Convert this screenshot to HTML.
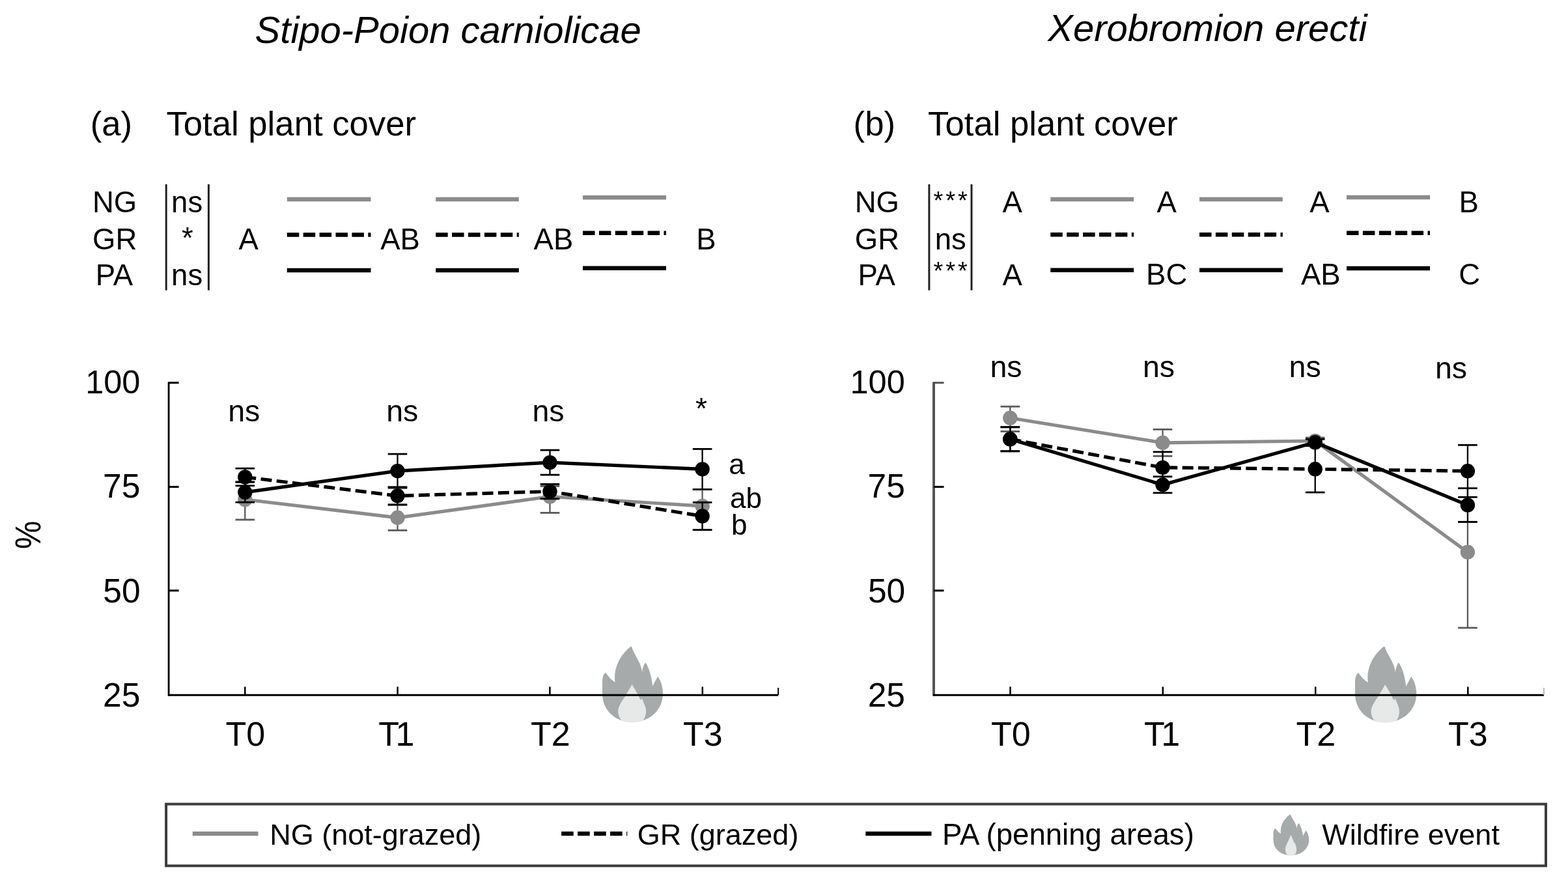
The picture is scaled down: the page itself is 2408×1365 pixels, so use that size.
<!DOCTYPE html>
<html><head><meta charset="utf-8"><style>
html,body{margin:0;padding:0;background:#fff;}
svg{display:block;}
text{font-family:"Liberation Sans",Arial,sans-serif;}
</style></head><body>
<svg width="2408" height="1365" viewBox="0 0 2408 1365">
<rect x="0" y="0" width="2408" height="1365" fill="#fff"/>
<text x="391.6" y="65.6" font-size="58" style="font-style:italic;" fill="#000" >Stipo-Poion carniolicae</text>
<text x="1609.3" y="62.6" font-size="58" style="font-style:italic;" fill="#000" >Xerobromion erecti</text>
<text x="138.7" y="208.0" font-size="52.7" style="" fill="#000" >(a)</text>
<text x="255.4" y="208.0" font-size="52.7" style="" fill="#000" >Total plant cover</text>
<text x="1310.6" y="208.0" font-size="52.7" style="" fill="#000" >(b)</text>
<text x="1425.1" y="208.2" font-size="52.7" style="" fill="#000" >Total plant cover</text>
<text x="142.0" y="326.0" font-size="45.5" style="" fill="#000" >NG</text>
<text x="142.1" y="383.0" font-size="45.5" style="" fill="#000" >GR</text>
<text x="146.8" y="437.6" font-size="45.5" style="" fill="#000" >PA</text>
<line x1="255.2" y1="283" x2="255.2" y2="445.7" stroke="#222" stroke-width="3" />
<line x1="320.4" y1="283" x2="320.4" y2="445.7" stroke="#222" stroke-width="3" />
<text x="263.1" y="326.0" font-size="45.5" style="" fill="#000" >ns</text>
<text x="279.1" y="380.5" font-size="45.5" style="" fill="#000" >*</text>
<text x="263.1" y="437.6" font-size="45.5" style="" fill="#000" >ns</text>
<line x1="440.8" y1="306" x2="569.5" y2="306" stroke="#8b8b8b" stroke-width="6.5" />
<line x1="440.8" y1="360.4" x2="569.5" y2="360.4" stroke="#000" stroke-width="6.5" stroke-dasharray="18.5 6.4"/>
<line x1="440.8" y1="415" x2="569.5" y2="415" stroke="#000" stroke-width="6.5" />
<line x1="669.2" y1="306" x2="796.8" y2="306" stroke="#8b8b8b" stroke-width="6.5" />
<line x1="669.2" y1="360.4" x2="796.8" y2="360.4" stroke="#000" stroke-width="6.5" stroke-dasharray="18.5 6.4"/>
<line x1="669.2" y1="415" x2="796.8" y2="415" stroke="#000" stroke-width="6.5" />
<line x1="895" y1="303.3" x2="1023" y2="303.3" stroke="#8b8b8b" stroke-width="6.5" />
<line x1="895" y1="357.7" x2="1023" y2="357.7" stroke="#000" stroke-width="6.5" stroke-dasharray="18.5 6.4"/>
<line x1="895" y1="411.8" x2="1023" y2="411.8" stroke="#000" stroke-width="6.5" />
<text x="366.4" y="383.0" font-size="45.5" style="" fill="#000" >A</text>
<text x="584.2" y="383.0" font-size="45.5" style="" fill="#000" >AB</text>
<text x="819.6" y="382.7" font-size="45.5" style="" fill="#000" >AB</text>
<text x="1069.3" y="382.7" font-size="45.5" style="" fill="#000" >B</text>
<text x="1312.7" y="326.0" font-size="45.5" style="" fill="#000" >NG</text>
<text x="1312.8" y="383.0" font-size="45.5" style="" fill="#000" >GR</text>
<text x="1317.5" y="437.6" font-size="45.5" style="" fill="#000" >PA</text>
<line x1="1426.9" y1="283" x2="1426.9" y2="445.7" stroke="#222" stroke-width="3" />
<line x1="1492" y1="283" x2="1492" y2="445.7" stroke="#222" stroke-width="3" />
<text x="1433.5" y="320.5" font-size="38" style="" fill="#000"  letter-spacing="3.9">***</text>
<text x="1435.7" y="383.0" font-size="45.5" style="" fill="#000" >ns</text>
<text x="1433.5" y="428.5" font-size="38" style="" fill="#000"  letter-spacing="3.9">***</text>
<line x1="1613.3" y1="305.9" x2="1741.2" y2="305.9" stroke="#8b8b8b" stroke-width="6.5" />
<line x1="1613.3" y1="360.3" x2="1741.2" y2="360.3" stroke="#000" stroke-width="6.5" stroke-dasharray="18.5 6.4"/>
<line x1="1613.3" y1="414.8" x2="1741.2" y2="414.8" stroke="#000" stroke-width="6.5" />
<line x1="1842" y1="305.9" x2="1969.8" y2="305.9" stroke="#8b8b8b" stroke-width="6.5" />
<line x1="1842" y1="360.3" x2="1969.8" y2="360.3" stroke="#000" stroke-width="6.5" stroke-dasharray="18.5 6.4"/>
<line x1="1842" y1="414.8" x2="1969.8" y2="414.8" stroke="#000" stroke-width="6.5" />
<line x1="2068" y1="303" x2="2196" y2="303" stroke="#8b8b8b" stroke-width="6.5" />
<line x1="2068" y1="357.8" x2="2196" y2="357.8" stroke="#000" stroke-width="6.5" stroke-dasharray="18.5 6.4"/>
<line x1="2068" y1="412" x2="2196" y2="412" stroke="#000" stroke-width="6.5" />
<text x="1539.6" y="326.0" font-size="45.5" style="" fill="#000" >A</text>
<text x="1539.6" y="437.5" font-size="45.5" style="" fill="#000" >A</text>
<text x="1776.5" y="326.2" font-size="45.5" style="" fill="#000" >A</text>
<text x="1760.1" y="437.0" font-size="45.5" style="" fill="#000" >BC</text>
<text x="2011.3" y="325.7" font-size="45.5" style="" fill="#000" >A</text>
<text x="1998.0" y="437.0" font-size="45.5" style="" fill="#000" >AB</text>
<text x="2240.6" y="325.7" font-size="45.5" style="" fill="#000" >B</text>
<text x="2240.3" y="437.0" font-size="45.5" style="" fill="#000" >C</text>
<g transform="translate(925 992.8) scale(1.0 1.0)"><path d="M46 116C20 116 0 98 0 72L0 52Q1 42 5 40Q12 50 19.5 55C17 35 25 15 43.5 0Q46 0 46 3C50 15 60 25 61 39.5C62 32 64 27 66 24.5C72 32 76 48 77.3 61C80 55 83 50 85 46C90 52 93 62 93 72C93 98 72 116 46 116Z" fill="#a7aaaa"/><path d="M45.5 58C43 64 38 70 35.5 76C31 82 27 88 25 94C23 100 25 108 30 114Q46 118.5 62 114C67 108 68 100 66.5 94C65 89 63 85 61 80L58.5 82C55 73 49 64 45.5 58Z" fill="#e7e9e9"/></g>
<g transform="translate(2081 992.7) scale(1.0129032258064516 1.0051724137931033)"><path d="M46 116C20 116 0 98 0 72L0 52Q1 42 5 40Q12 50 19.5 55C17 35 25 15 43.5 0Q46 0 46 3C50 15 60 25 61 39.5C62 32 64 27 66 24.5C72 32 76 48 77.3 61C80 55 83 50 85 46C90 52 93 62 93 72C93 98 72 116 46 116Z" fill="#a7aaaa"/><path d="M45.5 58C43 64 38 70 35.5 76C31 82 27 88 25 94C23 100 25 108 30 114Q46 118.5 62 114C67 108 68 100 66.5 94C65 89 63 85 61 80L58.5 82C55 73 49 64 45.5 58Z" fill="#e7e9e9"/></g>
<line x1="259.1" y1="586.4" x2="259.1" y2="1068.5" stroke="#000" stroke-width="2.8" />
<line x1="259.1" y1="587.7" x2="274.6" y2="587.7" stroke="#000" stroke-width="3" />
<line x1="259.1" y1="747.5" x2="274.6" y2="747.5" stroke="#000" stroke-width="3" />
<line x1="259.1" y1="906.8" x2="274.6" y2="906.8" stroke="#000" stroke-width="3" />
<line x1="258.1" y1="1067.2" x2="1195.2" y2="1067.2" stroke="#000" stroke-width="3" />
<line x1="376.3" y1="1054.5" x2="376.3" y2="1067" stroke="#000" stroke-width="2.5" />
<line x1="610.6" y1="1054.5" x2="610.6" y2="1067" stroke="#000" stroke-width="2.5" />
<line x1="844.4" y1="1054.5" x2="844.4" y2="1067" stroke="#000" stroke-width="2.5" />
<line x1="1078.8" y1="1054.5" x2="1078.8" y2="1067" stroke="#000" stroke-width="2.5" />
<line x1="1195.2" y1="1056" x2="1195.2" y2="1067" stroke="#000" stroke-width="2" />
<text x="131.2" y="603.6" font-size="50.5" style="" fill="#000" >100</text>
<text x="158.0" y="763.6" font-size="51.5" style="" fill="#000" >75</text>
<text x="158.3" y="924.6" font-size="51.5" style="" fill="#000" >50</text>
<text x="158.1" y="1084.6" font-size="51.5" style="" fill="#000" >25</text>
<text x="346.5" y="1144.6" font-size="52" style="" fill="#000" >T0</text>
<text x="581.2" y="1144.6" font-size="52" style="" fill="#000"  letter-spacing="-5.5">T1</text>
<text x="815.1" y="1144.6" font-size="52" style="" fill="#000" >T2</text>
<text x="1049.0" y="1144.6" font-size="52" style="" fill="#000" >T3</text>
<line x1="1434" y1="586.4" x2="1434" y2="1068.5" stroke="#555" stroke-width="4" />
<line x1="1434" y1="587.7" x2="1449.5" y2="587.7" stroke="#555" stroke-width="3" />
<line x1="1434" y1="747.5" x2="1449.5" y2="747.5" stroke="#000" stroke-width="3" />
<line x1="1434" y1="906.8" x2="1449.5" y2="906.8" stroke="#000" stroke-width="3" />
<line x1="1433" y1="1067.2" x2="2371" y2="1067.2" stroke="#000" stroke-width="3" />
<line x1="1551.5" y1="1054.5" x2="1551.5" y2="1067" stroke="#000" stroke-width="2.5" />
<line x1="1785.8" y1="1054.5" x2="1785.8" y2="1067" stroke="#000" stroke-width="2.5" />
<line x1="2020.2" y1="1054.5" x2="2020.2" y2="1067" stroke="#000" stroke-width="2.5" />
<line x1="2254.3" y1="1054.5" x2="2254.3" y2="1067" stroke="#000" stroke-width="2.5" />
<line x1="2371" y1="1056" x2="2371" y2="1067" stroke="#bbb" stroke-width="2" />
<text x="1305.5" y="603.6" font-size="50.5" style="" fill="#000" >100</text>
<text x="1332.6" y="763.6" font-size="51.5" style="" fill="#000" >75</text>
<text x="1332.9" y="924.6" font-size="51.5" style="" fill="#000" >50</text>
<text x="1332.7" y="1084.6" font-size="51.5" style="" fill="#000" >25</text>
<text x="1522.1" y="1144.6" font-size="52" style="" fill="#000" >T0</text>
<text x="1757.1" y="1144.6" font-size="52" style="" fill="#000"  letter-spacing="-5.5">T1</text>
<text x="1990.4" y="1144.6" font-size="52" style="" fill="#000" >T2</text>
<text x="2224.0" y="1144.6" font-size="52" style="" fill="#000" >T3</text>
<text x="0" y="0" font-size="54" transform="translate(61.6 843) rotate(-90) scale(0.9 1.04)">%</text>
<text x="350.2" y="647.2" font-size="46.5" style="" fill="#000" >ns</text>
<text x="593.2" y="647.2" font-size="46.5" style="" fill="#000" >ns</text>
<text x="817.4" y="647.2" font-size="46.5" style="" fill="#000" >ns</text>
<text x="1068.0" y="643.0" font-size="46.5" style="" fill="#000" >*</text>
<text x="1520.4" y="579.0" font-size="46.5" style="" fill="#000" >ns</text>
<text x="1754.9" y="579.0" font-size="46.5" style="" fill="#000" >ns</text>
<text x="1979.6" y="579.0" font-size="46.5" style="" fill="#000" >ns</text>
<text x="2203.9" y="581.0" font-size="46.5" style="" fill="#000" >ns</text>
<text x="1119.3" y="727.5" font-size="44" style="" fill="#000" >a</text>
<text x="1121.1" y="780.2" font-size="44" style="" fill="#000" >ab</text>
<text x="1123.1" y="820.7" font-size="44" style="" fill="#000" >b</text>
<line x1="376.3" y1="739.5" x2="376.3" y2="798" stroke="#5a5a5a" stroke-width="2.3" />
<line x1="361.5" y1="739.5" x2="391.1" y2="739.5" stroke="#5a5a5a" stroke-width="2.8" />
<line x1="361.5" y1="798" x2="391.1" y2="798" stroke="#5a5a5a" stroke-width="2.8" />
<line x1="610.5" y1="775.3" x2="610.5" y2="814.3" stroke="#5a5a5a" stroke-width="2.3" />
<line x1="595.7" y1="775.3" x2="625.3" y2="775.3" stroke="#5a5a5a" stroke-width="2.8" />
<line x1="595.7" y1="814.3" x2="625.3" y2="814.3" stroke="#5a5a5a" stroke-width="2.8" />
<line x1="844.5" y1="746.5" x2="844.5" y2="787.4" stroke="#5a5a5a" stroke-width="2.3" />
<line x1="829.7" y1="746.5" x2="859.3" y2="746.5" stroke="#5a5a5a" stroke-width="2.8" />
<line x1="829.7" y1="787.4" x2="859.3" y2="787.4" stroke="#5a5a5a" stroke-width="2.8" />
<line x1="1078.6" y1="751.6" x2="1078.6" y2="813.6" stroke="#5a5a5a" stroke-width="2.3" />
<line x1="1063.8" y1="751.6" x2="1093.3999999999999" y2="751.6" stroke="#5a5a5a" stroke-width="2.8" />
<line x1="1063.8" y1="813.6" x2="1093.3999999999999" y2="813.6" stroke="#5a5a5a" stroke-width="2.8" />
<polyline points="376.3,767 610.5,794.8 844.5,762.5 1078.6,777" fill="none" stroke="#8b8b8b" stroke-width="5.2" stroke-linejoin="round" />
<circle cx="376.3" cy="767" r="11.2" fill="#8b8b8b"/>
<circle cx="610.5" cy="794.8" r="11.2" fill="#8b8b8b"/>
<circle cx="844.5" cy="762.5" r="11.2" fill="#8b8b8b"/>
<circle cx="1078.6" cy="777" r="11.2" fill="#8b8b8b"/>
<line x1="376.3" y1="719.2" x2="376.3" y2="745.8" stroke="#000" stroke-width="2.3" />
<line x1="361.5" y1="719.2" x2="391.1" y2="719.2" stroke="#000" stroke-width="2.8" />
<line x1="361.5" y1="745.8" x2="391.1" y2="745.8" stroke="#000" stroke-width="2.8" />
<line x1="376.3" y1="740.4" x2="376.3" y2="771.1999999999999" stroke="#000" stroke-width="2.3" />
<line x1="361.5" y1="740.4" x2="391.1" y2="740.4" stroke="#000" stroke-width="2.8" />
<line x1="361.5" y1="771.1999999999999" x2="391.1" y2="771.1999999999999" stroke="#000" stroke-width="2.8" />
<line x1="610.5" y1="747.8" x2="610.5" y2="774.8" stroke="#000" stroke-width="2.3" />
<line x1="595.7" y1="747.8" x2="625.3" y2="747.8" stroke="#000" stroke-width="2.8" />
<line x1="595.7" y1="774.8" x2="625.3" y2="774.8" stroke="#000" stroke-width="2.8" />
<line x1="610.5" y1="697.1" x2="610.5" y2="749.1" stroke="#000" stroke-width="2.3" />
<line x1="595.7" y1="697.1" x2="625.3" y2="697.1" stroke="#000" stroke-width="2.8" />
<line x1="595.7" y1="749.1" x2="625.3" y2="749.1" stroke="#000" stroke-width="2.8" />
<line x1="844.5" y1="743.4" x2="844.5" y2="765.8000000000001" stroke="#000" stroke-width="2.3" />
<line x1="829.7" y1="743.4" x2="859.3" y2="743.4" stroke="#000" stroke-width="2.8" />
<line x1="829.7" y1="765.8000000000001" x2="859.3" y2="765.8000000000001" stroke="#000" stroke-width="2.8" />
<line x1="844.5" y1="691.1" x2="844.5" y2="729.1" stroke="#000" stroke-width="2.3" />
<line x1="829.7" y1="691.1" x2="859.3" y2="691.1" stroke="#000" stroke-width="2.8" />
<line x1="829.7" y1="729.1" x2="859.3" y2="729.1" stroke="#000" stroke-width="2.8" />
<line x1="1078.6" y1="771.4" x2="1078.6" y2="813.6" stroke="#000" stroke-width="2.3" />
<line x1="1063.8" y1="771.4" x2="1093.3999999999999" y2="771.4" stroke="#000" stroke-width="2.8" />
<line x1="1063.8" y1="813.6" x2="1093.3999999999999" y2="813.6" stroke="#000" stroke-width="2.8" />
<line x1="1078.6" y1="689.4" x2="1078.6" y2="751.4" stroke="#000" stroke-width="2.3" />
<line x1="1063.8" y1="689.4" x2="1093.3999999999999" y2="689.4" stroke="#000" stroke-width="2.8" />
<line x1="1063.8" y1="751.4" x2="1093.3999999999999" y2="751.4" stroke="#000" stroke-width="2.8" />
<polyline points="376.3,732.5 610.5,761.3 844.5,754.6 1078.6,792.5" fill="none" stroke="#000" stroke-width="5.2" stroke-linejoin="round" stroke-dasharray="17 7.4"/>
<polyline points="376.3,755.8 610.5,723.1 844.5,710.1 1078.6,720.4" fill="none" stroke="#000" stroke-width="5.2" stroke-linejoin="round" />
<circle cx="376.3" cy="732.5" r="11.2" fill="#000"/>
<circle cx="376.3" cy="755.8" r="11.2" fill="#000"/>
<circle cx="610.5" cy="761.3" r="11.2" fill="#000"/>
<circle cx="610.5" cy="723.1" r="11.2" fill="#000"/>
<circle cx="844.5" cy="754.6" r="11.2" fill="#000"/>
<circle cx="844.5" cy="710.1" r="11.2" fill="#000"/>
<circle cx="1078.6" cy="792.5" r="11.2" fill="#000"/>
<circle cx="1078.6" cy="720.4" r="11.2" fill="#000"/>
<line x1="1551.3" y1="624.1999999999999" x2="1551.3" y2="662.4" stroke="#5a5a5a" stroke-width="2.3" />
<line x1="1536.5" y1="624.1999999999999" x2="1566.1" y2="624.1999999999999" stroke="#5a5a5a" stroke-width="2.8" />
<line x1="1536.5" y1="662.4" x2="1566.1" y2="662.4" stroke="#5a5a5a" stroke-width="2.8" />
<line x1="1785.5" y1="659.3" x2="1785.5" y2="700.3" stroke="#5a5a5a" stroke-width="2.3" />
<line x1="1770.7" y1="659.3" x2="1800.3" y2="659.3" stroke="#5a5a5a" stroke-width="2.8" />
<line x1="1770.7" y1="700.3" x2="1800.3" y2="700.3" stroke="#5a5a5a" stroke-width="2.8" />
<line x1="2019.7" y1="672" x2="2019.7" y2="682" stroke="#5a5a5a" stroke-width="2.3" />
<line x1="2004.9" y1="672" x2="2034.5" y2="672" stroke="#5a5a5a" stroke-width="2.8" />
<line x1="2004.9" y1="682" x2="2034.5" y2="682" stroke="#5a5a5a" stroke-width="2.8" />
<line x1="2253.9" y1="801.4" x2="2253.9" y2="964.0" stroke="#5a5a5a" stroke-width="2.3" />
<line x1="2239.1" y1="801.4" x2="2268.7000000000003" y2="801.4" stroke="#5a5a5a" stroke-width="2.8" />
<line x1="2239.1" y1="964.0" x2="2268.7000000000003" y2="964.0" stroke="#5a5a5a" stroke-width="2.8" />
<polyline points="1551.3,641.8 1785.5,679.8 2019.7,677 2253.9,847.8" fill="none" stroke="#8b8b8b" stroke-width="5.2" stroke-linejoin="round" />
<circle cx="1551.3" cy="641.8" r="11.2" fill="#8b8b8b"/>
<circle cx="1785.5" cy="679.8" r="11.2" fill="#8b8b8b"/>
<circle cx="2019.7" cy="677" r="11.2" fill="#8b8b8b"/>
<circle cx="2253.9" cy="847.8" r="11.2" fill="#8b8b8b"/>
<line x1="1551.3" y1="655.8" x2="1551.3" y2="692.8" stroke="#000" stroke-width="2.3" />
<line x1="1536.5" y1="655.8" x2="1566.1" y2="655.8" stroke="#000" stroke-width="2.8" />
<line x1="1536.5" y1="692.8" x2="1566.1" y2="692.8" stroke="#000" stroke-width="2.8" />
<line x1="1551.3" y1="655.8" x2="1551.3" y2="692.8" stroke="#000" stroke-width="2.3" />
<line x1="1536.5" y1="655.8" x2="1566.1" y2="655.8" stroke="#000" stroke-width="2.8" />
<line x1="1536.5" y1="692.8" x2="1566.1" y2="692.8" stroke="#000" stroke-width="2.8" />
<line x1="1785.5" y1="693.9" x2="1785.5" y2="741.9" stroke="#000" stroke-width="2.3" />
<line x1="1770.7" y1="693.9" x2="1800.3" y2="693.9" stroke="#000" stroke-width="2.8" />
<line x1="1770.7" y1="741.9" x2="1800.3" y2="741.9" stroke="#000" stroke-width="2.8" />
<line x1="1785.5" y1="731.8" x2="1785.5" y2="756.8" stroke="#000" stroke-width="2.3" />
<line x1="1770.7" y1="731.8" x2="1800.3" y2="731.8" stroke="#000" stroke-width="2.8" />
<line x1="1770.7" y1="756.8" x2="1800.3" y2="756.8" stroke="#000" stroke-width="2.8" />
<line x1="2019.7" y1="684.5999999999999" x2="2019.7" y2="756.0" stroke="#000" stroke-width="2.3" />
<line x1="2004.9" y1="684.5999999999999" x2="2034.5" y2="684.5999999999999" stroke="#000" stroke-width="2.8" />
<line x1="2004.9" y1="756.0" x2="2034.5" y2="756.0" stroke="#000" stroke-width="2.8" />
<line x1="2019.7" y1="674.3" x2="2019.7" y2="684.3" stroke="#000" stroke-width="2.3" />
<line x1="2004.9" y1="674.3" x2="2034.5" y2="674.3" stroke="#000" stroke-width="2.8" />
<line x1="2004.9" y1="684.3" x2="2034.5" y2="684.3" stroke="#000" stroke-width="2.8" />
<line x1="2253.9" y1="683.3" x2="2253.9" y2="763.3" stroke="#000" stroke-width="2.3" />
<line x1="2239.1" y1="683.3" x2="2268.7000000000003" y2="683.3" stroke="#000" stroke-width="2.8" />
<line x1="2239.1" y1="763.3" x2="2268.7000000000003" y2="763.3" stroke="#000" stroke-width="2.8" />
<line x1="2253.9" y1="749.7" x2="2253.9" y2="801.3" stroke="#000" stroke-width="2.3" />
<line x1="2239.1" y1="749.7" x2="2268.7000000000003" y2="749.7" stroke="#000" stroke-width="2.8" />
<line x1="2239.1" y1="801.3" x2="2268.7000000000003" y2="801.3" stroke="#000" stroke-width="2.8" />
<polyline points="1551.3,674.3 1785.5,717.9 2019.7,720.3 2253.9,723.3" fill="none" stroke="#000" stroke-width="5.2" stroke-linejoin="round" stroke-dasharray="17 7.4"/>
<polyline points="1551.3,674.3 1785.5,744.3 2019.7,679.3 2253.9,775.5" fill="none" stroke="#000" stroke-width="5.2" stroke-linejoin="round" />
<circle cx="1551.3" cy="674.3" r="11.2" fill="#000"/>
<circle cx="1551.3" cy="674.3" r="11.2" fill="#000"/>
<circle cx="1785.5" cy="717.9" r="11.2" fill="#000"/>
<circle cx="1785.5" cy="744.3" r="11.2" fill="#000"/>
<circle cx="2019.7" cy="720.3" r="11.2" fill="#000"/>
<circle cx="2019.7" cy="679.3" r="11.2" fill="#000"/>
<circle cx="2253.9" cy="723.3" r="11.2" fill="#000"/>
<circle cx="2253.9" cy="775.5" r="11.2" fill="#000"/>
<rect x="255.1" y="1234.6" width="2118.9" height="94.8" fill="none" stroke="#3c3c3c" stroke-width="4"/>
<line x1="295.8" y1="1280" x2="396.5" y2="1280" stroke="#8b8b8b" stroke-width="6.5" />
<line x1="862.1" y1="1280" x2="963.3" y2="1280" stroke="#000" stroke-width="6.5" stroke-dasharray="18.6 6.4"/>
<line x1="1329.3" y1="1280" x2="1430.5" y2="1280" stroke="#000" stroke-width="6.5" />
<text x="414.2" y="1296.7" font-size="45" style="" fill="#000" >NG (not-grazed)</text>
<text x="978.8" y="1296.7" font-size="45" style="" fill="#000" >GR (grazed)</text>
<text x="1446.9" y="1296.7" font-size="45.6" style="" fill="#000" >PA (penning areas)</text>
<text x="2030.3" y="1297.0" font-size="45" style="" fill="#000" >Wildfire event</text>
<g transform="translate(1955.5 1250.4) scale(0.5881720430107528 0.5413793103448276)"><path d="M46 116C20 116 0 98 0 72L0 52Q1 42 5 40Q12 50 19.5 55C17 35 25 15 43.5 0Q46 0 46 3C50 15 60 25 61 39.5C62 32 64 27 66 24.5C72 32 76 48 77.3 61C80 55 83 50 85 46C90 52 93 62 93 72C93 98 72 116 46 116Z" fill="#a7aaaa"/><path d="M45.5 58C43 64 38 70 35.5 76C31 82 27 88 25 94C23 100 25 108 30 114Q46 118.5 62 114C67 108 68 100 66.5 94C65 89 63 85 61 80L58.5 82C55 73 49 64 45.5 58Z" fill="#e7e9e9" transform="translate(46 0) scale(0.68 1) translate(-46 0)"/></g>
</svg>
</body></html>
